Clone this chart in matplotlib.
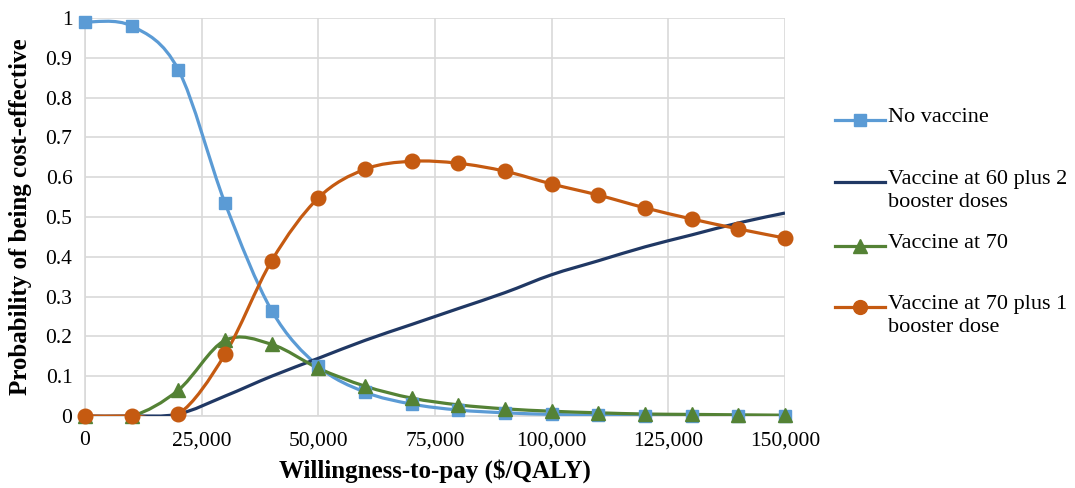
import numpy as np
import matplotlib
matplotlib.use("Agg")
import matplotlib.pyplot as plt
from matplotlib.path import Path
from matplotlib.patches import PathPatch
from matplotlib.lines import Line2D
from matplotlib.ticker import FuncFormatter, MultipleLocator

# willingness-to-pay values ($/QALY)
wtp = [0, 10000, 20000, 30000, 40000, 50000, 60000, 70000, 80000,
       90000, 100000, 110000, 120000, 130000, 140000, 150000]

no_vaccine = [0.99, 0.98, 0.87, 0.535, 0.265, 0.125, 0.06, 0.03, 0.015,
              0.008, 0.004, 0.002, 0.001, 0.001, 0.0, 0.0]
vacc_60_2 = [0.0, 0.0, 0.005, 0.05, 0.10, 0.145, 0.19, 0.23, 0.27,
             0.31, 0.355, 0.39, 0.425, 0.455, 0.485, 0.51]
vacc_70 = [0.0, 0.0, 0.065, 0.19, 0.18, 0.12, 0.075, 0.045, 0.028,
           0.018, 0.012, 0.008, 0.005, 0.004, 0.003, 0.002]
vacc_70_1 = [0.0, 0.0, 0.005, 0.155, 0.39, 0.548, 0.62, 0.64, 0.635,
             0.615, 0.583, 0.555, 0.523, 0.495, 0.47, 0.447]

labels = ["No vaccine", "Vaccine at 60 plus 2\nbooster doses",
          "Vaccine at 70", "Vaccine at 70 plus 1\nbooster dose"]
colors = ["#5B9BD5", "#203864", "#548235", "#C55A11"]
markers = ["s", None, "^", "o"]
msizes = [9, 0, 10, 10.5]

plt.rcParams['font.family'] = ['Liberation Serif', 'DejaVu Serif']


def smooth_path(x, y):
    """Excel-like smoothed line drawn as cubic bezier segments."""
    x = np.asarray(x, float)
    y = np.asarray(y, float)
    n = len(x)
    verts = [(x[0], y[0])]
    codes = [Path.MOVETO]
    for i in range(n - 1):
        x0, y0 = (x[i - 1], y[i - 1]) if i > 0 else (x[i], y[i])
        x3, y3 = (x[i + 2], y[i + 2]) if i + 2 < n else (x[i + 1], y[i + 1])
        c1 = (x[i] + (x[i + 1] - x0) / 6, y[i] + (y[i + 1] - y0) / 6)
        c2 = (x[i + 1] - (x3 - x[i]) / 6, y[i + 1] - (y3 - y[i]) / 6)
        verts += [c1, c2, (x[i + 1], y[i + 1])]
        codes += [Path.CURVE4] * 3
    return Path(verts, codes)


W, H = 1075, 488
fig = plt.figure(figsize=(W / 100, H / 100), dpi=100)
ax = fig.add_axes([85 / W, 1 - 416 / H, 700 / W, 398 / H])

series = [no_vaccine, vacc_60_2, vacc_70, vacc_70_1]
for vals, col, mk, ms in zip(series, colors, markers, msizes):
    patch = PathPatch(smooth_path(wtp, vals), facecolor='none', edgecolor=col,
                      lw=2.3, zorder=3)
    ax.add_patch(patch)
    if mk is not None:
        ax.plot(wtp, vals, ls='none', marker=mk, ms=ms, color=col, zorder=4,
                clip_on=False)

ax.set_xlim(0, 150000)
ax.set_ylim(0, 1)
ax.xaxis.set_major_locator(MultipleLocator(25000))
ax.yaxis.set_major_locator(MultipleLocator(0.1))
ax.xaxis.set_major_formatter(FuncFormatter(lambda v, p: f"{v:,.0f}"))
ax.yaxis.set_major_formatter(FuncFormatter(lambda v, p: f"{v:.1f}".rstrip('0').rstrip('.') if v else "0"))
ax.grid(True, color='#D9D9D9', lw=1.2)
ax.set_axisbelow(True)
for s in ['top', 'right']:
    ax.spines[s].set_visible(False)
for s in ['left', 'bottom']:
    ax.spines[s].set_color('#D9D9D9')
    ax.spines[s].set_linewidth(1.2)
ax.tick_params(length=0, labelsize=15.5)
ax.tick_params(axis='x', pad=11)
ax.tick_params(axis='y', pad=9)

ax.set_xlabel("Willingness-to-pay ($/QALY)", fontsize=18, fontweight='bold', labelpad=6)
ax.set_ylabel("Probability of being cost-effective", fontsize=18, fontweight='bold', labelpad=10)

# legend drawn at the right, one slot per entry (Excel layout)
row_y = [120, 182, 246, 307]
for lab, col, mk, ms, yy in zip(labels, colors, markers, msizes, row_y):
    yf = 1 - yy / H
    fig.add_artist(Line2D([835 / W, 885 / W], [yf, yf], color=col, lw=2.3,
                          transform=fig.transFigure))
    if mk is not None:
        fig.add_artist(Line2D([860 / W], [yf], marker=mk, ms=ms * 0.95, color=col,
                              transform=fig.transFigure))
    fig.text(888 / W, 1 - (yy - 12) / H, lab, fontsize=16, va='top', ha='left',
             linespacing=1.3)

fig.savefig("out.png", dpi=100)
